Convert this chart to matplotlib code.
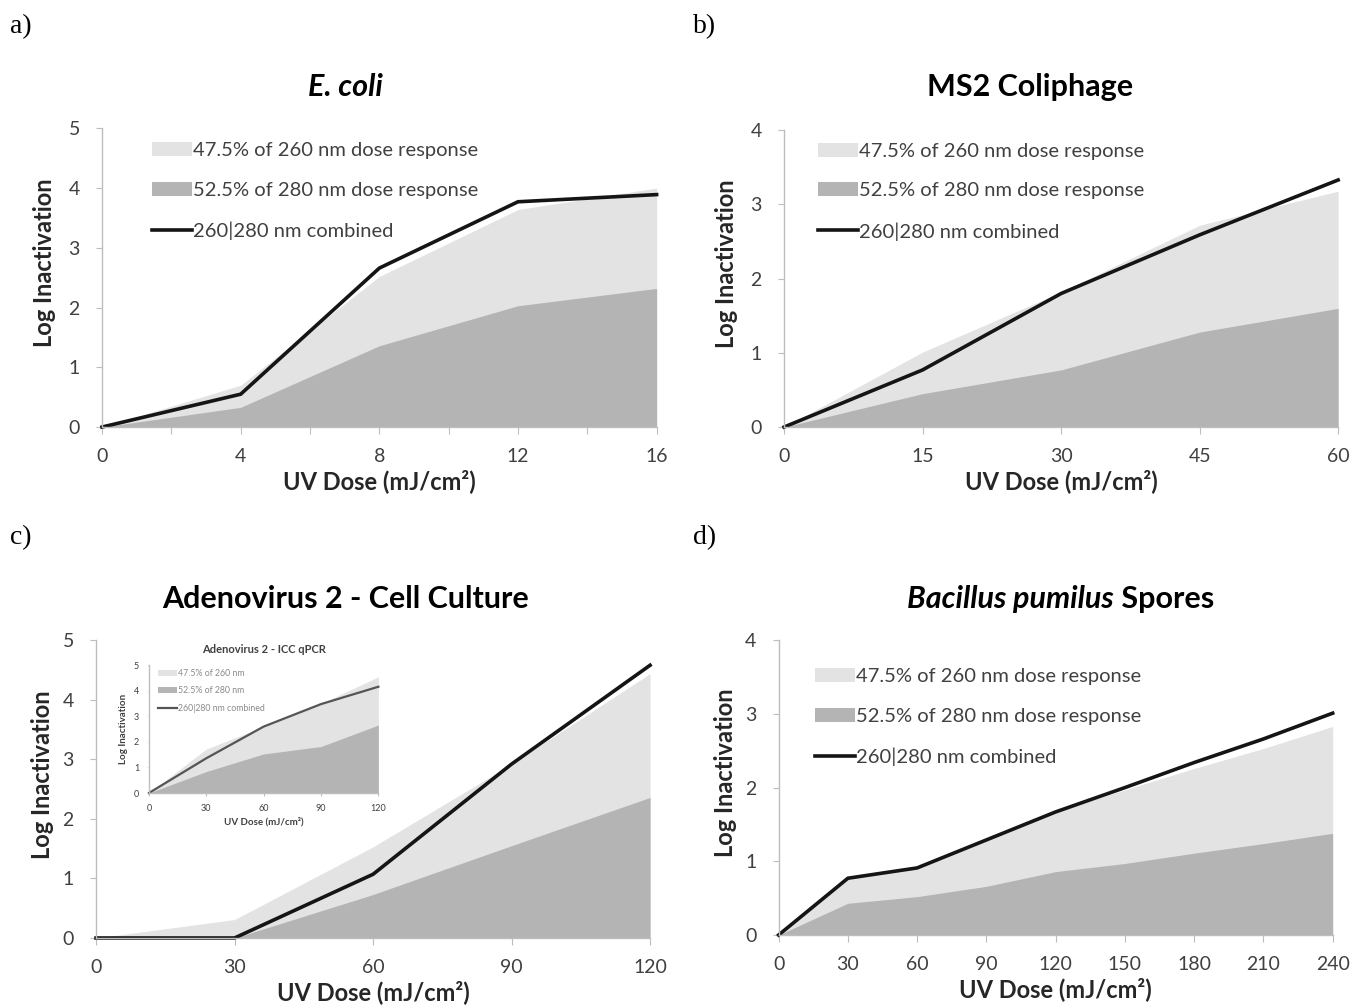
import matplotlib.pyplot as plt

plt.rcParams['font.family'] = ['Lato', 'DejaVu Sans']

light_col = '#e3e3e3'
dark_col = '#b4b4b4'
line_col = '#151515'
axis_col = '#bdbdbd'
txt_col = '#404040'

# a) E. coli
dose_a = [0, 4, 8, 12, 16]
r280_a = [0, 0.33, 1.36, 2.03, 2.32]      # 52.5% of 280 nm
top_a = [0, 0.70, 2.52, 3.64, 4.00]       # stacked top incl. 47.5% of 260 nm
comb_a = [0, 0.55, 2.66, 3.77, 3.89]

# b) MS2 Coliphage
dose_b = [0, 15, 30, 45, 60]
r280_b = [0, 0.45, 0.77, 1.28, 1.60]
top_b = [0, 1.01, 1.82, 2.72, 3.18]
comb_b = [0, 0.77, 1.80, 2.59, 3.33]

# c) Adenovirus 2 - cell culture
dose_c = [0, 30, 60, 90, 120]
r280_c = [0, 0, 0.73, 1.55, 2.36]
top_c = [0, 0.31, 1.53, 2.92, 4.44]
comb_c = [0, 0, 1.07, 2.92, 4.58]

# c) inset: Adenovirus 2 - ICC qPCR
dose_i = [0, 30, 60, 90, 120]
r280_i = [0, 0.84, 1.53, 1.82, 2.66]
top_i = [0, 1.72, 2.60, 3.50, 4.55]
comb_i = [0, 1.36, 2.60, 3.48, 4.16]

# d) Bacillus pumilus spores
dose_d = [0, 30, 60, 90, 120, 150, 180, 210, 240]
r280_d = [0, 0.43, 0.52, 0.66, 0.86, 0.97, 1.11, 1.24, 1.38]
top_d = [0, 0.77, 0.93, 1.29, 1.67, 1.97, 2.26, 2.53, 2.83]
comb_d = [0, 0.77, 0.91, 1.29, 1.67, 2.00, 2.34, 2.66, 3.01]

labels_full = ['47.5% of 260 nm dose response', '52.5% of 280 nm dose response',
               '260|280 nm combined']
labels_inset = ['47.5% of 260 nm', '52.5% of 280 nm', '260|280 nm combined']

fig = plt.figure(figsize=(13.66, 10.06), dpi=100)


def style_axes(ax, xticks, xlabels, yticks, fs_tick=14, fs_lab=17, tlen=5,
               xpad=10, ypad=12, lpad_x=3, lpad_y=9, lab_col='#262626'):
    for s in ['top', 'right']:
        ax.spines[s].set_visible(False)
    for s in ['left', 'bottom']:
        ax.spines[s].set_color(axis_col)
        ax.spines[s].set_linewidth(1.0)
    ax.set_xticks(xticks)
    ax.set_xticklabels(xlabels)
    ax.set_yticks(yticks)
    ax.tick_params(axis='x', colors=axis_col, labelcolor=txt_col, length=tlen,
                   labelsize=fs_tick, pad=xpad)
    ax.tick_params(axis='y', colors=axis_col, labelcolor=txt_col, length=tlen - 1,
                   labelsize=fs_tick, pad=ypad)
    ax.set_xlabel('UV Dose (mJ/cm²)', fontsize=fs_lab, fontweight='bold',
                  color=lab_col, labelpad=lpad_x)
    ax.set_ylabel('Log Inactivation', fontsize=fs_lab, fontweight='bold',
                  color=lab_col, labelpad=lpad_y)


def draw_panel(ax, x, r280, top, comb, lw=2.6, lcol=line_col):
    ax.fill_between(x, top, 0, color=light_col, lw=0)
    ax.fill_between(x, r280, 0, color=dark_col, lw=0)
    ax.plot(x, comb, color=lcol, lw=lw, clip_on=False, solid_joinstyle='miter')
    ax.set_xlim(x[0], x[-1])


def add_legend(ax, x0, y0, labels, fs=14.5, handlelength=2.0, spacing=1.12,
               tcol=txt_col, lcol=line_col, lw=2.6, tpad=0.05):
    handles = [plt.Rectangle((0, 0), 1, 1, color=light_col, lw=0),
               plt.Rectangle((0, 0), 1, 1, color=dark_col, lw=0),
               plt.Line2D([], [], color=lcol, lw=lw)]
    leg = ax.legend(handles, labels, loc='upper left', bbox_to_anchor=(x0, y0),
                    frameon=False, fontsize=fs, handlelength=handlelength,
                    handletextpad=tpad, labelspacing=spacing, borderpad=0,
                    borderaxespad=0)
    for t in leg.get_texts():
        t.set_color(tcol)
    return leg


# ---- a) ----
ax_a = fig.add_axes([0.0747, 0.5755, 0.406, 0.297])
draw_panel(ax_a, dose_a, r280_a, top_a, comb_a)
ax_a.set_ylim(0, 5)
style_axes(ax_a, range(0, 17, 2), ['0', '', '4', '', '8', '', '12', '', '16'], range(6))
ax_a.yaxis.set_label_coords(-0.083, 0.55)
add_legend(ax_a, 0.09, 0.953, labels_full)
ax_a.text(0.438, 1.137, 'E. coli', transform=ax_a.transAxes, ha='center', va='center',
          fontsize=22, fontweight='bold', style='italic')

# ---- b) ----
ax_b = fig.add_axes([0.574, 0.5755, 0.4056, 0.295])
draw_panel(ax_b, dose_b, r280_b, top_b, comb_b)
ax_b.set_ylim(0, 4)
style_axes(ax_b, dose_b, [str(v) for v in dose_b], range(5))
ax_b.yaxis.set_label_coords(-0.083, 0.55)
add_legend(ax_b, 0.061, 0.958, labels_full)
ax_b.text(0.444, 1.145, 'MS2 Coliphage', transform=ax_b.transAxes, ha='center',
          va='center', fontsize=22, fontweight='bold')

# ---- c) ----
ax_c = fig.add_axes([0.0703, 0.0676, 0.4056, 0.296])
draw_panel(ax_c, dose_c, r280_c, top_c, comb_c)
ax_c.set_ylim(0, 5)
style_axes(ax_c, dose_c, [str(v) for v in dose_c], range(6))
ax_c.yaxis.set_label_coords(-0.076, 0.55)
ax_c.text(0.451, 1.14, 'Adenovirus 2 - Cell Culture', transform=ax_c.transAxes,
          ha='center', va='center', fontsize=22, fontweight='bold')

# inset
ax_i = fig.add_axes([0.109, 0.2117, 0.168, 0.127])
draw_panel(ax_i, dose_i, r280_i, top_i, comb_i, lw=1.6, lcol='#555555')
ax_i.set_ylim(0, 5)
style_axes(ax_i, dose_i, [str(v) for v in dose_i], range(6), fs_tick=6.5, fs_lab=7,
           tlen=2, xpad=6, ypad=6, lpad_x=3, lpad_y=4, lab_col='#404040')
add_legend(ax_i, 0.04, 0.97, labels_inset, fs=6.3, handlelength=2.2, spacing=0.95,
           tcol='#8a8a8a', lcol='#555555', lw=1.6, tpad=0.1)
ax_i.set_title('Adenovirus 2 - ICC qPCR', fontsize=8, fontweight='bold',
               color='#404040', pad=9)

# ---- d) ----
ax_d = fig.add_axes([0.570, 0.0706, 0.4056, 0.293])
draw_panel(ax_d, dose_d, r280_d, top_d, comb_d)
ax_d.set_ylim(0, 4)
style_axes(ax_d, dose_d, [str(v) for v in dose_d], range(5))
ax_d.yaxis.set_label_coords(-0.076, 0.55)
add_legend(ax_d, 0.065, 0.905, labels_full)
t1 = ax_d.text(0.605, 1.14, 'Bacillus pumilus', transform=ax_d.transAxes, ha='right',
               va='center', fontsize=22, fontweight='bold', style='italic')
ax_d.annotate(' Spores', xy=(1, 0.5), xycoords=t1, ha='left', va='center',
              fontsize=22, fontweight='bold')

# panel letters
for lab, x, y in [('a)', 0.007, 0.974), ('b)', 0.507, 0.974),
                  ('c)', 0.007, 0.466), ('d)', 0.507, 0.466)]:
    fig.text(x, y, lab, family='Liberation Serif', fontsize=20, va='center')

fig.savefig('out.png', dpi=100, facecolor='white')
